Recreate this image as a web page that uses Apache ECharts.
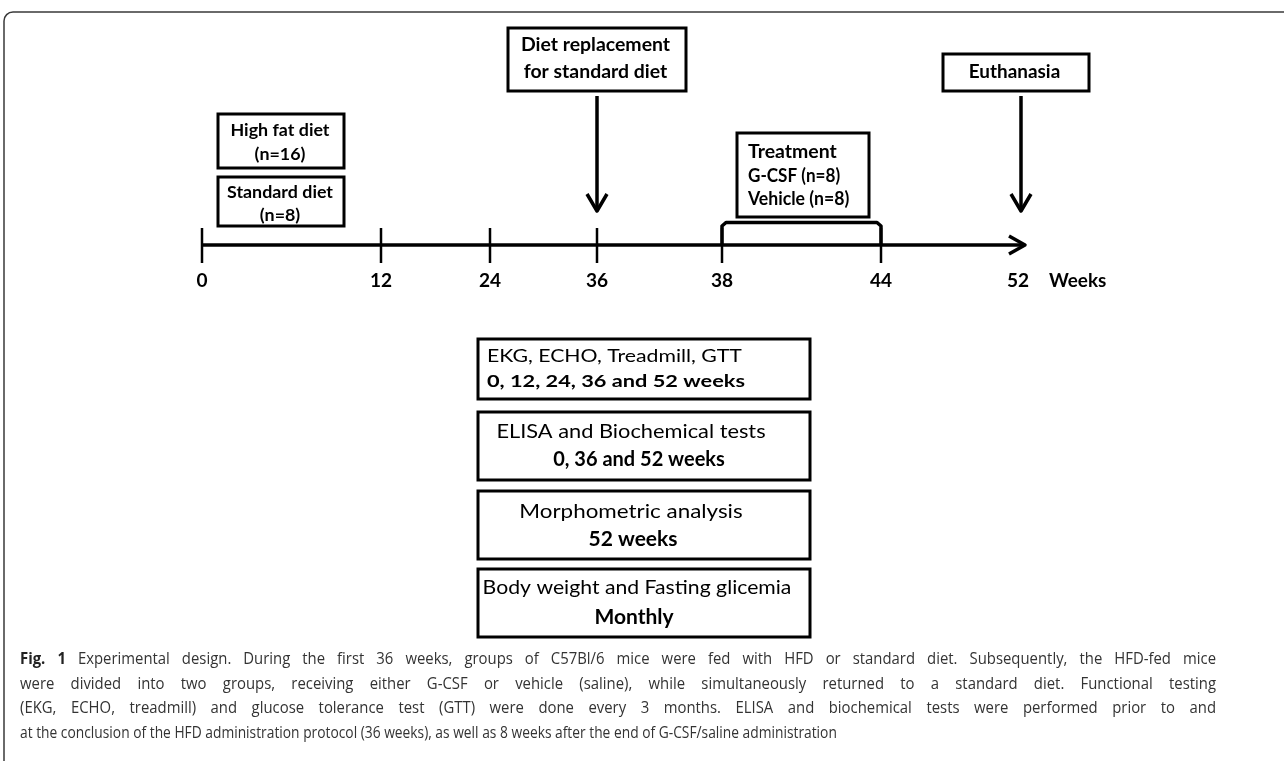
<!DOCTYPE html>
<html><head><meta charset="utf-8">
<script src="https://cdn.jsdelivr.net/npm/echarts@6/dist/echarts.min.js"></script>
<style>html,body{margin:0;padding:0;background:#fff}#c{width:1284px;height:761px}</style>
</head><body><div id="c"></div>
<script>
// ---- content (data) ----
const weeks = ['0', '12', '24', '36', '38', '44', '52'];
const axisUnit = 'Weeks';
const startGroups = [['High fat diet', '(n=16)'], ['Standard diet', '(n=8)']];
const events = [['Diet replacement', 'for standard diet'], ['Euthanasia']];
const treatment = ['Treatment', 'G-CSF (n=8)', 'Vehicle (n=8)'];
const tests = ['EKG, ECHO, Treadmill, GTT', 'ELISA and Biochemical tests', 'Morphometric analysis', 'Body weight and Fasting glicemia'];
const testTimes = ['0, 12, 24, 36 and 52 weeks', '0, 36 and 52 weeks', '52 weeks', 'Monthly'];
const captionLead = 'Fig. 1';
const captionLines = [
  'Fig. 1 Experimental design. During the first 36 weeks, groups of C57Bl/6 mice were fed with HFD or standard diet. Subsequently, the HFD-fed mice',
  'were divided into two groups, receiving either G-CSF or vehicle (saline), while simultaneously returned to a standard diet. Functional testing',
  '(EKG, ECHO, treadmill) and glucose tolerance test (GTT) were done every 3 months. ELISA and biochemical tests were performed prior to and',
  'at the conclusion of the HFD administration protocol (36 weeks), as well as 8 weeks after the end of G-CSF/saline administration'
];

// ---- layout (diagram positions in canvas units) ----
const L = {
  tickX: [202, 381, 490, 597, 722, 881, 1020],
  axisY: 245, axisEnd: 1025,
  startBoxes: [[218, 114, 126, 54], [218, 177, 126, 49]],
  eventBoxes: [[508, 28, 178, 63], [943, 54, 146, 37]],
  eventTick: [3, 6],
  treatBox: [737, 133, 132, 84],
  testBoxes: [[478, 339, 332, 60], [478, 412, 332, 68], [478, 491, 332, 68], [478, 569, 332, 68]],
  caption: {left: 20, right: 1216, top: 659.5, step: 24.6, scaleJust: 0.96, scaleLast: 0.89}
};

const chart = echarts.init(document.getElementById('c'), null, {renderer: 'canvas'});
const FB = 'Lato, "Open Sans", sans-serif';
const CF = '15.5px "Open Sans", sans-serif';
const CFB = 'bold 15.5px "Open Sans", sans-serif';
const INK = '#000';
const mctx = document.createElement('canvas').getContext('2d');
function measure(t, font) { mctx.font = font; return mctx.measureText(t).width; }

function renderItem(params, api) {
  const P = (x, y) => api.coord([x, y]);
  const kids = [];
  const line = (pts, w) => kids.push({type: 'polyline', shape: {points: pts.map(p => P(p[0], p[1]))}, style: {stroke: INK, lineWidth: w, fill: null, lineJoin: 'round', lineCap: 'butt'}});
  const rect = (b, w) => { const a = P(b[0], b[1]); kids.push({type: 'rect', shape: {x: a[0], y: a[1], width: b[2], height: b[3]}, style: {fill: '#fff', stroke: INK, lineWidth: w}}); };
  const text = (t, x, y, font, align, sx, fill) => { const a = P(x, y); kids.push({type: 'text', x: a[0], y: a[1], scaleX: sx || 1, style: {text: t, font: font, fill: fill || INK, align: align || 'center', verticalAlign: 'middle'}}); };

  // outer frame
  const f = P(4, 12);
  kids.push({type: 'rect', shape: {x: f[0], y: f[1], width: 1320, height: 800, r: 9}, style: {fill: null, stroke: '#3a3a3a', lineWidth: 1.5}});

  // timeline axis
  line([[L.tickX[0], L.axisY], [L.axisEnd, L.axisY]], 3.5);
  line([[L.axisEnd - 16, L.axisY - 9], [L.axisEnd, L.axisY], [L.axisEnd - 16, L.axisY + 9]], 3.5);
  weeks.forEach((w, i) => {
    const x = L.tickX[i];
    if (i < weeks.length - 1) line([[x, 228], [x, 263]], 2.5);
    text(w, x - (i === weeks.length - 1 ? 2 : 0), 281, 'bold 18px ' + FB, 'center', 1.06);
  });
  text(axisUnit, 1049, 281, 'bold 18px ' + FB, 'left', 1.05);

  // treatment bracket
  const b0 = L.tickX[4], b1 = L.tickX[5];
  line([[b0, L.axisY], [b0, 226], [b0 + 4, 222.5], [b1 - 4, 222.5], [b1, 226], [b1, L.axisY]], 3.5);

  // start group boxes
  startGroups.forEach((g, i) => {
    const b = L.startBoxes[i];
    rect(b, 3);
    const cx = b[0] + b[2] / 2 - 1;
    const ys = i === 0 ? [131, 155] : [193, 216];
    text(g[0], cx, ys[0], 'bold 17px ' + FB, 'center', 1.05);
    text(g[1], cx, ys[1], 'bold 17px ' + FB, 'center', 1.05);
  });

  // event boxes + arrows
  events.forEach((e, i) => {
    const b = L.eventBoxes[i];
    rect(b, 3);
    const cx = b[0] + b[2] / 2 - 1.5;
    if (e.length === 2) { text(e[0], cx, 45, 'bold 18px ' + FB, 'center', 1.08); text(e[1], cx, 72, 'bold 18px ' + FB, 'center', 1.08); }
    else text(e[0], cx, b[1] + b[3] / 2, 'bold 18px ' + FB, 'center', 1.05);
    const ax = L.tickX[L.eventTick[i]] + (i === 1 ? 1 : 0);
    line([[ax, b[1] + b[3] + 5], [ax, 211]], 3.5);
    line([[ax - 10, 194], [ax, 211], [ax + 10, 194]], 3.5);
  });

  // treatment box
  rect(L.treatBox, 3);
  text(treatment[0], 748, 152, 'bold 18px ' + FB, 'left', 1.08);
  text(treatment[1], 748, 176, 'bold 18px ' + FB, 'left', 0.95);
  text(treatment[2], 748, 199, 'bold 18px ' + FB, 'left', 0.98);

  // test boxes
  const ty = [[357, 382], [432, 460], [512, 540], [588, 618]];
  const tcx = [[0, 0], [631, 639], [631, 633], [637, 634]];
  const tsx = [[1.25, 1.28], [1.09, 1.0], [1.12, 1.05], [1.06, 1.05]];
  tests.forEach((t, i) => {
    const b = L.testBoxes[i];
    rect(b, 3);
    if (i === 0) {
      text(t, 487, ty[i][0], '17px ' + FB, 'left', tsx[i][0]);
      text(testTimes[i], 487, ty[i][1], 'bold 17px ' + FB, 'left', tsx[i][1]);
    } else {
      text(t, tcx[i][0], ty[i][0], '20px ' + FB, 'center', tsx[i][0]);
      text(testTimes[i], tcx[i][1], ty[i][1], 'bold 20px ' + FB, 'center', tsx[i][1]);
    }
  });

  // caption (justified, last line ragged)
  const C = L.caption;
  captionLines.forEach((c, li) => {
    const justify = li < captionLines.length - 1;
    const sx = justify ? C.scaleJust : C.scaleLast;
    const words = c.split(' ');
    const fonts = words.map((w, wi) => (li === 0 && wi < captionLead.split(' ').length) ? CFB : CF);
    const widths = words.map((w, wi) => measure(w, fonts[wi]) * sx);
    const sum = widths.reduce((a, b) => a + b, 0);
    const gap = justify ? (C.right - C.left - sum) / (words.length - 1) : measure(' ', CF) * sx;
    let x = C.left;
    const y = C.top + li * C.step;
    words.forEach((w, wi) => {
      text(w, x, y, fonts[wi], 'left', sx, fonts[wi] === CFB ? '#222' : '#333');
      x += widths[wi] + gap;
    });
  });

  return {type: 'group', children: kids};
}

chart.setOption({
  animation: false,
  grid: {left: 0, right: 0, top: 0, bottom: 0},
  xAxis: {type: 'value', min: 0, max: 1284, show: false},
  yAxis: {type: 'value', min: 0, max: 761, inverse: true, show: false},
  series: [{type: 'custom', coordinateSystem: 'cartesian2d', renderItem: renderItem, data: [[0, 0]], clip: false, silent: true}]
});
</script></body></html>
